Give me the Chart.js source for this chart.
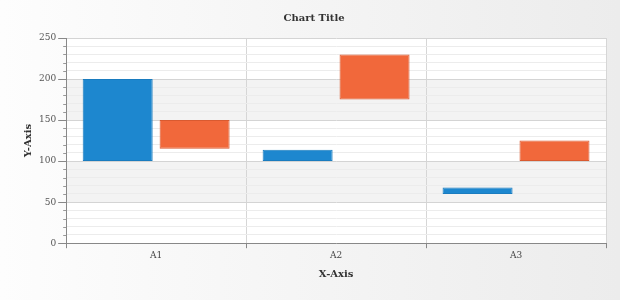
<!DOCTYPE html>
<html>
<head>
<meta charset="utf-8">
<script src="https://cdn.jsdelivr.net/npm/chart.js@4.4.1/dist/chart.umd.min.js"></script>
<style>
  html, body { margin: 0; padding: 0; background: #ffffff; }
  #wrap { width: 620px; height: 300px; position: relative; }
</style>
</head>
<body>
<div id="wrap"><canvas id="chart"></canvas></div>
<script>
// categories and floating bar ranges
const categories = ["A1", "A2", "A3"];
const blueLow = [100, 100, 60];
const blueHigh = [200, 114, 68];
const orangeLow = [115, 175, 100];
const orangeHigh = [150, 230, 125];
const yMin = 0;
const yMax = 250;
const yStep = 10;
const yLabelEvery = 50;

const FONT = "'DejaVu Serif', 'Liberation Serif', serif";

// background gradient + alternating bands in the plot area
const backdrop = {
  id: "backdrop",
  beforeDraw(chart) {
    const { ctx, width, height, chartArea, scales } = chart;
    ctx.save();
    const g = ctx.createLinearGradient(0, 0, width, 0);
    g.addColorStop(0, "#fdfdfd");
    g.addColorStop(1, "#ececec");
    ctx.fillStyle = g;
    ctx.fillRect(0, 0, width, height);

    ctx.fillStyle = "#ffffff";
    ctx.fillRect(chartArea.left, chartArea.top, chartArea.right - chartArea.left, chartArea.bottom - chartArea.top);

    const y = scales.y;
    ctx.fillStyle = "#f3f3f3";
    for (let v = yMin + yLabelEvery; v < yMax; v += yLabelEvery * 2) {
      const top = y.getPixelForValue(v + yLabelEvery);
      const bottom = y.getPixelForValue(v);
      ctx.fillRect(chartArea.left, top, chartArea.right - chartArea.left, bottom - top);
    }
    ctx.restore();
  },
  // short minor tick marks on the y axis
  afterDraw(chart) {
    const { ctx, chartArea, scales } = chart;
    const y = scales.y;
    ctx.save();
    ctx.strokeStyle = "#999999";
    ctx.lineWidth = 1;
    ctx.beginPath();
    for (let v = yMin; v <= yMax; v += yStep) {
      if (v % yLabelEvery === 0) continue;
      const py = Math.round(y.getPixelForValue(v)) + 0.5;
      ctx.moveTo(chartArea.left - 3, py);
      ctx.lineTo(chartArea.left, py);
    }
    ctx.stroke();
    ctx.restore();
  }
};

const ctx = document.getElementById("chart").getContext("2d");
new Chart(ctx, {
  type: "bar",
  data: {
    labels: categories,
    datasets: [
      {
        label: "Series 1",
        data: blueLow.map((lo, i) => [lo, blueHigh[i]]),
        backgroundColor: "#1d87cf",
        borderColor: "#1a7cbf",
        borderWidth: 1,
        borderSkipped: false
      },
      {
        label: "Series 2",
        data: orangeLow.map((lo, i) => [lo, orangeHigh[i]]),
        backgroundColor: "#f1683b",
        borderColor: "#d95a30",
        borderWidth: 1,
        borderSkipped: false
      }
    ]
  },
  options: {
    responsive: true,
    maintainAspectRatio: false,
    animation: false,
    categoryPercentage: 0.855,
    barPercentage: 0.91,
    layout: { padding: { left: 22, right: 14, top: 4, bottom: 20 } },
    plugins: {
      legend: { display: false },
      tooltip: { enabled: false },
      title: {
        display: true,
        text: "Chart Title",
        color: "#333333",
        font: { family: FONT, size: 10, weight: "bold" },
        padding: { top: 8, bottom: 14 }
      }
    },
    scales: {
      x: {
        offset: true,
        grid: {
          offset: true,
          color: "#d6d6d6",
          tickColor: "#888888",
          tickLength: 5,
          drawTicks: true
        },
        border: { color: "#888888", width: 1 },
        ticks: {
          color: "#444444",
          font: { family: FONT, size: 9 },
          padding: 2
        },
        title: {
          display: true,
          text: "X-Axis",
          color: "#333333",
          font: { family: FONT, size: 10, weight: "bold" },
          padding: { top: 5, bottom: 0 }
        }
      },
      y: {
        min: yMin,
        max: yMax,
        grid: {
          color: (c) => (c.tick && c.tick.value % yLabelEvery === 0 ? "#d4d4d4" : "#ececec"),
          tickColor: (c) => (c.tick && c.tick.value % yLabelEvery === 0 ? "#888888" : "rgba(0,0,0,0)"),
          tickLength: 8
        },
        border: { color: "#888888", width: 1 },
        ticks: {
          stepSize: yStep,
          autoSkip: false,
          color: "#555555",
          font: { family: FONT, size: 9 },
          padding: 2,
          callback: (v) => (v % yLabelEvery === 0 ? v : "")
        },
        title: {
          display: true,
          text: "Y-Axis",
          color: "#333333",
          font: { family: FONT, size: 10, weight: "bold" },
          padding: { top: 0, bottom: 3 }
        }
      }
    }
  },
  plugins: [backdrop]
});
</script>
</body>
</html>
